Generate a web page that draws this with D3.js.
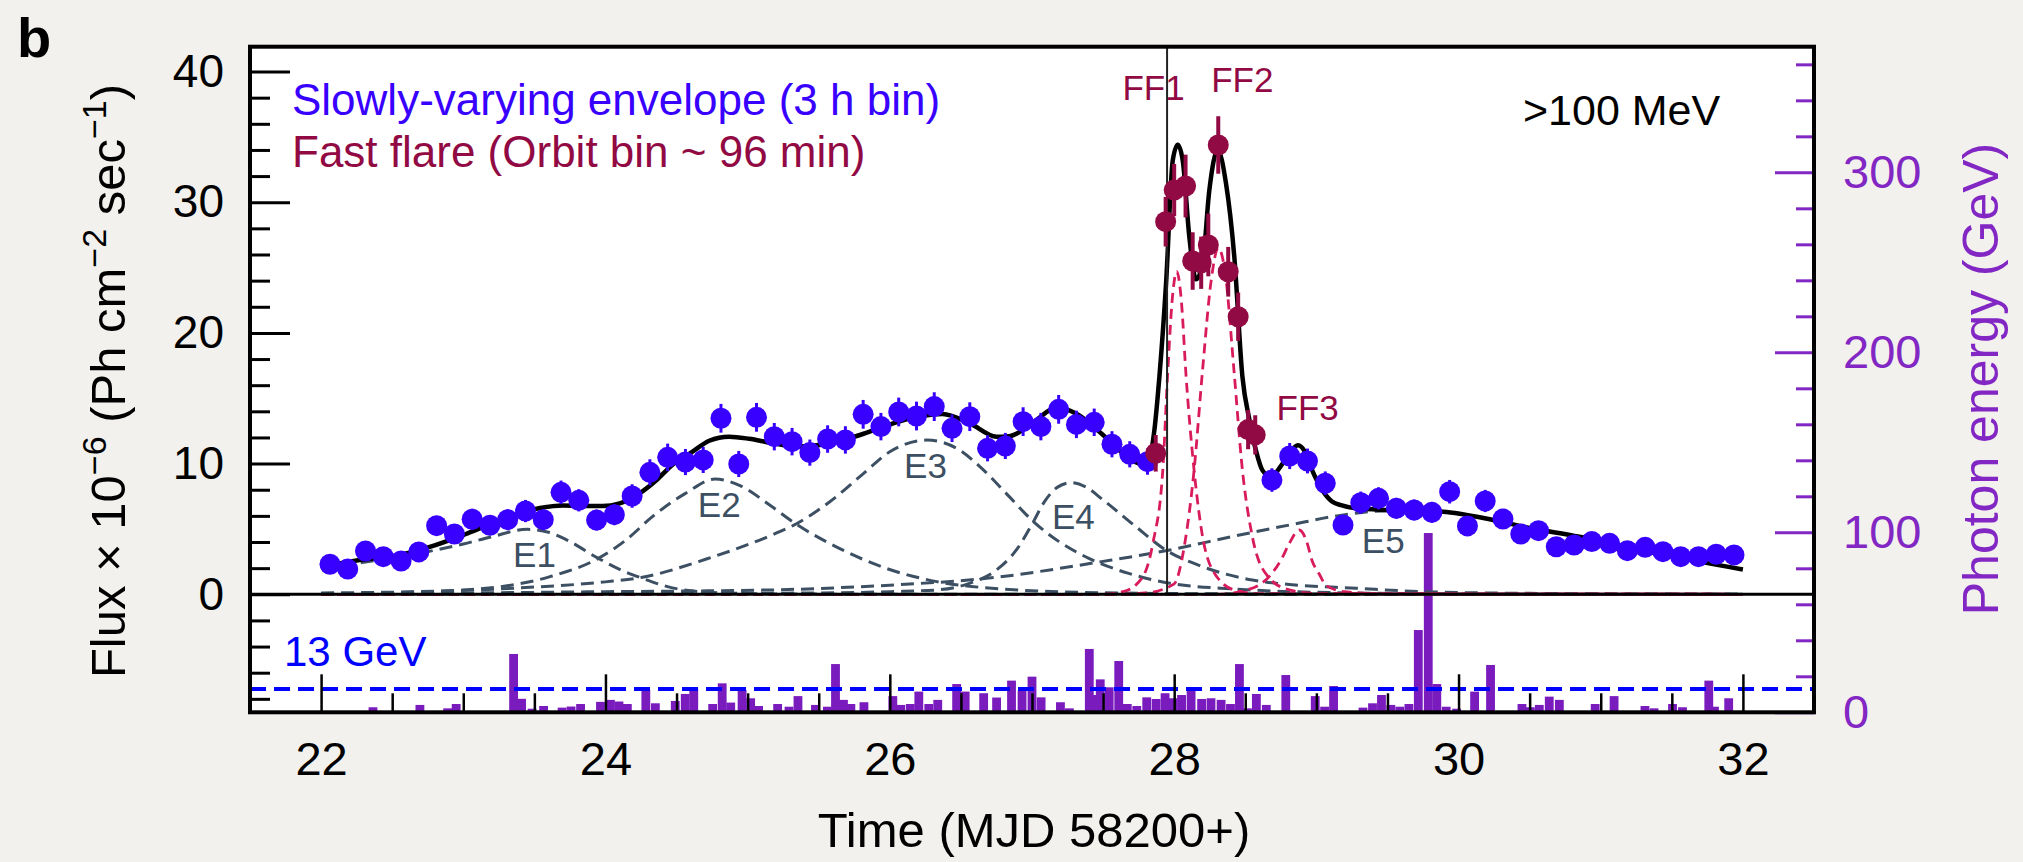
<!DOCTYPE html>
<html><head><meta charset="utf-8">
<script src="https://cdn.jsdelivr.net/npm/d3@7"></script>
<style>
html,body{margin:0;padding:0;background:#f2f1ed;}
svg{display:block;font-family:"Liberation Sans",Arial,Helvetica,sans-serif;}
</style></head><body>
<svg id="chart" width="2023" height="862"></svg>
<script>
// ---------------- DATA ----------------
// Slowly-varying envelope (3 h bins)
const envTimes = [22.0625,22.1875,22.3125,22.4375,22.5625,22.6875,22.8125,22.9375,23.0625,23.1875,23.3125,23.4375,23.5625,23.6875,23.8125,23.9375,24.0625,24.1875,24.3125,24.4375,24.5625,24.6875,24.8125,24.9375,25.0625,25.1875,25.3125,25.4375,25.5625,25.6875,25.8125,25.9375,26.0625,26.1875,26.3125,26.4375,26.5625,26.6875,26.8125,26.9375,27.0625,27.1875,27.3125,27.4375,27.5625,27.6875,27.8125,
  28.6875,28.8125,28.9375,29.0625,29.1875,29.3125,29.4375,29.5625,29.6875,29.8125,29.9375,30.0625,30.1875,30.3125,30.4375,30.5625,30.6875,30.8125,30.9375,31.0625,31.1875,31.3125,31.4375,31.5625,31.6875,31.8125,31.9375];
const envFlux = [2.30,1.93,3.31,2.88,2.55,3.24,5.25,4.61,5.74,5.28,5.71,6.37,5.71,7.80,7.19,5.68,6.09,7.52,9.33,10.48,10.12,10.28,13.47,9.97,13.54,12.06,11.68,10.84,11.88,11.81,13.77,12.83,13.95,13.64,14.36,12.70,13.59,11.17,11.35,13.21,12.83,14.15,13.00,13.16,11.48,10.71,10.15,
  8.74,10.58,10.20,8.50,5.30,7.01,7.34,6.58,6.45,6.27,7.85,5.23,7.14,5.76,4.61,4.87,3.64,3.77,4.03,3.90,3.34,3.59,3.26,2.88,2.88,3.06,3.01];
const envErr = [0.6,0.6,0.65,0.6,0.6,0.65,0.75,0.7,0.8,0.75,0.8,0.85,0.8,0.9,0.85,0.8,0.8,0.9,1.0,1.05,1.0,1.0,1.1,1.0,1.1,1.05,1.05,1.0,1.05,1.05,1.1,1.05,1.1,1.1,1.1,1.05,1.1,1.0,1.0,1.1,1.05,1.1,1.05,1.05,1.0,1.0,1.0,
  0.9,1.0,0.95,0.9,0.75,0.85,0.85,0.8,0.8,0.8,0.9,0.75,0.85,0.75,0.7,0.7,0.65,0.65,0.65,0.65,0.6,0.6,0.6,0.6,0.6,0.6,0.6];

// Fast flare (orbit bins)
const flareTimes = [27.87,27.94,28.00,28.08,28.13,28.19,28.24,28.31,28.38,28.45,28.52,28.57];
const flareFlux  = [10.79,28.51,30.93,31.24,25.50,25.37,26.73,34.38,24.68,21.24,12.6,12.2];
const flareErr   = [1.4,1.9,2.0,2.4,2.2,2.0,2.4,2.2,1.9,1.85,1.5,1.5];

// Total model (solid black)
const totalModel = [[22.0,2.1],[22.27,2.62],[22.55,3.0],[22.77,3.64],[23.03,4.66],[23.28,5.75],[23.54,6.6],[23.70,6.8],[23.84,6.75],[23.98,6.75],[24.10,6.96],[24.24,7.73],[24.36,8.75],[24.47,9.9],[24.61,10.9],[24.73,11.75],[24.87,12.06],[25.01,11.9],[25.16,11.6],[25.35,11.3],[25.55,11.5],[25.79,12.19],[26.0,13.0],[26.2,13.6],[26.37,13.8],[26.56,13.1],[26.75,12.06],[26.84,12.1],[27.03,13.33],[27.17,14.3],[27.31,13.84],[27.5,12.19],[27.64,10.79],[27.76,10.0],[27.82,10.3],[27.86,12.5],[27.896,16.65],[27.943,23.8],[27.99,33.2],[28.025,34.4],[28.06,33.2],[28.107,27.3],[28.154,24.1],[28.2,25.3],[28.247,30.9],[28.306,34.0],[28.365,31.4],[28.423,25.8],[28.48,16.65],[28.53,13.3],[28.58,10.8],[28.62,9.5],[28.68,9.0],[28.75,9.8],[28.81,10.8],[28.87,11.4],[28.92,10.9],[28.97,9.5],[29.04,8.0],[29.11,7.1],[29.18,6.8],[29.28,6.58],[29.51,6.45],[29.89,6.32],[30.22,5.74],[30.45,5.18],[30.85,4.4],[31.39,3.13],[32.0,1.9]];

// Envelope components (grey dashed)
const compE1 = [[22.0,2.0],[22.3,2.45],[22.6,2.95],[22.79,3.35],[23.0,3.85],[23.2,4.4],[23.45,4.97],[23.6,4.75],[23.73,4.15],[23.95,2.75],[24.1,1.9],[24.26,1.22],[24.4,0.7],[24.55,0.33],[24.8,0.12],[25.2,0.03],[26.0,0.0],[32.0,0.0]];
const compE2 = [[22.0,0.03],[22.5,0.12],[23.14,0.44],[23.61,1.35],[23.95,2.75],[24.15,4.2],[24.33,5.94],[24.56,7.7],[24.77,8.82],[24.95,8.3],[25.155,6.83],[25.34,5.38],[25.62,3.65],[25.97,2.0],[26.33,0.97],[26.8,0.4],[27.5,0.12],[28.5,0.03],[32.0,0.0]];
const compE3 = [[22.0,0.1],[23.0,0.3],[23.5,0.55],[24.0,0.95],[24.26,1.3],[24.71,2.7],[25.14,4.4],[25.34,5.38],[25.58,7.1],[25.81,9.2],[26.0,10.9],[26.26,11.8],[26.47,11.17],[26.66,9.5],[26.84,7.47],[27.01,5.56],[27.19,4.03],[27.4,2.75],[27.68,1.6],[27.97,0.84],[28.43,0.4],[29.0,0.15],[30.0,0.03],[32.0,0.0]];
const compE4 = [[22.0,0.0],[25.5,0.1],[26.0,0.2],[26.33,0.33],[26.56,0.84],[26.75,1.86],[26.89,3.39],[27.01,5.56],[27.08,6.96],[27.18,8.2],[27.275,8.54],[27.38,8.2],[27.5,7.22],[27.73,5.18],[27.94,3.39],[28.2,2.11],[28.55,1.09],[28.81,0.75],[29.28,0.46],[29.75,0.2],[30.5,0.07],[32.0,0.0]];
const compE5 = [[22.0,0.05],[23.0,0.1],[24.0,0.2],[25.155,0.33],[26.0,0.7],[26.68,1.22],[27.49,2.5],[27.97,3.39],[28.4,4.4],[28.81,5.3],[29.23,6.14],[29.5,6.4],[29.89,6.32],[30.22,5.74],[30.45,5.18],[30.85,4.4],[31.39,3.13],[32.0,1.9]];

// Fast-flare components (crimson dashed)
const compFF1 = [[22.0,0],[27.5,0.0],[27.64,0.2],[27.78,1.35],[27.85,3.9],[27.92,9.5],[27.953,16.65],[27.99,23.0],[28.018,24.7],[28.05,22.5],[28.084,16.65],[28.14,9.5],[28.2,4.4],[28.27,1.85],[28.43,0.3],[28.6,0.05],[32.0,0]];
const compFF2 = [[22.0,0],[27.6,0.0],[27.8,0.1],[28.0,0.8],[28.07,3.6],[28.14,9.5],[28.2,17.2],[28.26,24.0],[28.31,26.5],[28.36,24.5],[28.42,17.2],[28.48,9.5],[28.55,4.4],[28.66,1.35],[28.81,0.33],[29.0,0.05],[32.0,0]];
const compFF3 = [[22.0,0],[28.3,0.0],[28.5,0.3],[28.68,1.5],[28.76,2.8],[28.81,3.9],[28.88,4.92],[28.93,4.1],[28.97,2.57],[29.02,1.55],[29.07,0.66],[29.2,0.2],[29.5,0.03],[32.0,0]];

// Photon energies (lower panel, right axis, GeV)
const photonTimes = [22.365,22.695,22.89,22.95,23.354,23.41,23.484,23.565,23.695,23.758,23.825,23.965,24.035,24.095,24.154,24.284,24.351,24.491,24.561,24.621,24.754,24.821,24.881,24.961,25.021,25.077,25.211,25.291,25.354,25.477,25.561,25.618,25.674,25.726,25.818,26.021,26.077,26.144,26.204,26.274,26.337,26.47,26.53,26.66,26.751,26.856,26.93,27.0,27.064,27.2,27.263,27.403,27.44,27.48,27.543,27.61,27.67,27.737,27.807,27.873,27.936,27.993,28.052,28.119,28.193,28.259,28.33,28.396,28.459,28.515,28.578,28.648,28.785,28.992,29.058,29.121,29.328,29.395,29.458,29.524,29.587,29.651,29.717,29.787,29.847,29.913,29.987,30.113,30.225,30.446,30.505,30.568,30.638,30.709,30.961,31.094,31.311,31.375,31.505,31.575,31.76,31.8,31.9];
const photonEnergy = [2.8,4.1,2.2,4.6,32.4,7.5,2.0,3.5,2.6,3.2,4.6,5.8,6.9,6.0,4.6,12.4,5.0,6.3,10.2,13.3,4.6,16.1,5.4,12.4,7.8,3.5,4.6,3.1,9.0,4.1,3.1,26.8,6.9,4.6,5.6,9.0,4.1,4.6,11.5,4.6,6.9,15.7,11.5,10.6,8.2,17.6,12.0,19.8,8.3,5.6,2.2,35.2,9.6,18.3,13.9,28.5,4.6,3.5,8.3,7.4,10.6,7.8,9.6,12.8,7.4,7.8,6.9,4.6,26.8,2.2,10.2,4.1,20.7,9.0,3.1,14.6,2.6,5.0,9.6,4.1,3.1,4.6,45.7,99.6,15.7,3.1,2.0,11.5,26.3,4.6,2.8,4.1,8.7,6.9,4.6,9.0,3.5,2.2,4.6,2.8,17.6,3.1,7.8];
const photonBinDays = 0.062;
const energyThreshold = 13;

// Ticks and labels
const xTickValues = [22,24,26,28,30,32];
const leftTickValues = [0,10,20,30,40];
const rightTickValues = [0,100,200,300];
const markerTime = [27.95];
const componentLabels = [
  {text:"E1",t:23.35,v:2.11},{text:"E2",t:24.65,v:5.94},{text:"E3",t:26.10,v:8.88},
  {text:"E4",t:27.14,v:4.97},{text:"E5",t:29.32,v:3.14}];
const flareLabels = [{text:"FF1",t:27.636,v:37.8},{text:"FF2",t:28.26,v:38.4},{text:"FF3",t:28.72,v:13.34}];

// ---------------- DRAW ----------------
const svg = d3.select("#chart");
const L=250, R=1814, T=46.7, B=712.3;
const x  = d3.scaleLinear().domain([21.5,32.5]).range([L,R]);
const yL = d3.scaleLinear().domain([-9.03,41.9]).range([B,T]);
const yR = d3.scaleLinear().domain([0,369.8]).range([B,T]);

const C = {blue:"#3800ff", maroon:"#920a43", crimson:"#d81b5c", slate:"#3d5063", purple:"#7a1bbd", purpleText:"#8226c4"};

svg.append("rect").attr("x",L).attr("y",T).attr("width",R-L).attr("height",B-T).attr("fill","#ffffff");

// Bars
svg.append("g").selectAll("rect").data(photonTimes.map((t,i)=>({t,e:photonEnergy[i]}))).join("rect")
  .attr("x",d=>x(d.t-photonBinDays/2)).attr("width",d=>x(d.t+photonBinDays/2)-x(d.t-photonBinDays/2))
  .attr("y",d=>yR(d.e)).attr("height",d=>yR(0)-yR(d.e)).attr("fill",C.purple);

// Threshold line
svg.append("line").attr("x1",L).attr("x2",R).attr("y1",yR(energyThreshold)).attr("y2",yR(energyThreshold))
  .attr("stroke","#0000ff").attr("stroke-width",4).attr("stroke-dasharray","16 8");
svg.append("text").attr("x",284).attr("y",666).attr("font-size",42).attr("fill","#0000ff").text("13 GeV");

const line = d3.line().x(d=>x(d[0])).y(d=>yL(d[1])).curve(d3.curveMonotoneX);

// Components
[compE1,compE2,compE3,compE4,compE5].forEach(c=>{
  svg.append("path").attr("d",line(c)).attr("fill","none").attr("stroke",C.slate)
    .attr("stroke-width",3).attr("stroke-dasharray","13 7");
});
[compFF1,compFF2,compFF3].forEach(c=>{
  svg.append("path").attr("d",line(c)).attr("fill","none").attr("stroke",C.crimson)
    .attr("stroke-width",2.8).attr("stroke-dasharray","10 6");
});

// Total
svg.append("path").attr("d",line(totalModel)).attr("fill","none").attr("stroke","#000")
  .attr("stroke-width",4.5).attr("stroke-linejoin","round");

// Vertical marker line
svg.selectAll(".vmark").data(markerTime).join("line").attr("class","vmark")
  .attr("x1",d=>x(d)).attr("x2",d=>x(d)).attr("y1",T).attr("y2",yL(0))
  .attr("stroke","#222").attr("stroke-width",2);

// Zero line
svg.append("line").attr("x1",L).attr("x2",R).attr("y1",yL(0)).attr("y2",yL(0)).attr("stroke","#000").attr("stroke-width",3);

// Envelope points
const env = envTimes.map((t,i)=>({t,v:envFlux[i],e:envErr[i]}));
svg.append("g").selectAll("line").data(env).join("line")
  .attr("x1",d=>x(d.t)).attr("x2",d=>x(d.t)).attr("y1",d=>yL(d.v-d.e)).attr("y2",d=>yL(d.v+d.e))
  .attr("stroke",C.blue).attr("stroke-width",3);
svg.append("g").selectAll("circle").data(env).join("circle")
  .attr("cx",d=>x(d.t)).attr("cy",d=>yL(d.v)).attr("r",10.5).attr("fill",C.blue);

// Flare points
const fl = flareTimes.map((t,i)=>({t,v:flareFlux[i],e:flareErr[i]}));
svg.append("g").selectAll("line").data(fl).join("line")
  .attr("x1",d=>x(d.t)).attr("x2",d=>x(d.t)).attr("y1",d=>yL(d.v-d.e)).attr("y2",d=>yL(d.v+d.e))
  .attr("stroke",C.maroon).attr("stroke-width",4);
svg.append("g").selectAll("circle").data(fl).join("circle")
  .attr("cx",d=>x(d.t)).attr("cy",d=>yL(d.v)).attr("r",10.5).attr("fill",C.maroon);

// Labels
svg.append("g").selectAll("text").data(componentLabels).join("text")
  .attr("x",d=>x(d.t)).attr("y",d=>yL(d.v)).attr("font-size",35).attr("fill",C.slate).text(d=>d.text);
svg.append("g").selectAll("text").data(flareLabels).join("text")
  .attr("x",d=>x(d.t)).attr("y",d=>yL(d.v)).attr("font-size",35).attr("fill",C.maroon).text(d=>d.text);

svg.append("text").attr("x",292).attr("y",115).attr("font-size",44).attr("fill",C.blue).text("Slowly-varying envelope (3 h bin)");
svg.append("text").attr("x",292).attr("y",167).attr("font-size",44).attr("fill",C.maroon).text("Fast flare (Orbit bin ~ 96 min)");
svg.append("text").attr("x",1523).attr("y",125).attr("font-size",43).attr("fill","#000").text(">100 MeV");

// Axes
function styleAxis(g, color, fs){
  g.select(".domain").remove();
  g.selectAll("text").attr("font-size",fs).attr("fill",color).attr("font-family","Liberation Sans, Arial, sans-serif");
  g.selectAll("line").attr("stroke",color);
}
// left
const gLmin = svg.append("g").attr("transform",`translate(${L},0)`)
  .call(d3.axisLeft(yL).tickValues(d3.range(-8,41,2).filter(v=>v%10!==0)).tickSize(-20).tickFormat(""));
styleAxis(gLmin,"#000",46); gLmin.selectAll("line").attr("stroke-width",3);
const gL = svg.append("g").attr("transform",`translate(${L},0)`)
  .call(d3.axisLeft(yL).tickValues(leftTickValues).tickSize(-40).tickPadding(26));
styleAxis(gL,"#000",46); gL.selectAll("line").attr("stroke-width",3);
// right
const gRmin = svg.append("g").attr("transform",`translate(${R},0)`)
  .call(d3.axisRight(yR).tickValues(d3.range(20,361,20).filter(v=>v%100!==0)).tickSize(-18).tickFormat(""));
styleAxis(gRmin,C.purpleText,46); gRmin.selectAll("line").attr("stroke-width",3);
const gR = svg.append("g").attr("transform",`translate(${R},0)`)
  .call(d3.axisRight(yR).tickValues(rightTickValues).tickSize(-39).tickPadding(29));
styleAxis(gR,C.purpleText,47); gR.selectAll("line").attr("stroke-width",3);
// bottom
const gBmin = svg.append("g").attr("transform",`translate(0,${B})`)
  .call(d3.axisBottom(x).tickValues(d3.range(22,32.01,0.5).filter(v=>v%2!==0)).tickSize(-19).tickFormat(""));
styleAxis(gBmin,"#000",46); gBmin.selectAll("line").attr("stroke-width",2.5);
const gB = svg.append("g").attr("transform",`translate(0,${B})`)
  .call(d3.axisBottom(x).tickValues(xTickValues).tickSize(-38).tickPadding(29));
styleAxis(gB,"#000",47); gB.selectAll("line").attr("stroke-width",2.5);

// Frame
svg.append("rect").attr("x",L).attr("y",T).attr("width",R-L).attr("height",B-T)
  .attr("fill","none").attr("stroke","#000").attr("stroke-width",4);

// Axis titles
svg.append("text").attr("x",1034).attr("y",847).attr("text-anchor","middle").attr("font-size",49).text("Time (MJD 58200+)");
const yt = svg.append("text").attr("transform","translate(125,381) rotate(-90)").attr("text-anchor","middle").attr("font-size",49);
yt.append("tspan").text("Flux × 10");
yt.append("tspan").attr("dy",-19).attr("font-size",34).text("−6");
yt.append("tspan").attr("dy",19).text(" (Ph cm");
yt.append("tspan").attr("dy",-19).attr("font-size",34).text("−2");
yt.append("tspan").attr("dy",19).text(" sec");
yt.append("tspan").attr("dy",-19).attr("font-size",34).text("−1");
yt.append("tspan").attr("dy",19).text(")");
svg.append("text").attr("transform","translate(1998,379) rotate(-90)").attr("text-anchor","middle")
  .attr("font-size",50).attr("fill",C.purpleText).text("Photon energy (GeV)");

// Panel letter
svg.append("text").attr("x",17).attr("y",57).attr("font-size",56).attr("font-weight","bold").text("b");
</script></body></html>
